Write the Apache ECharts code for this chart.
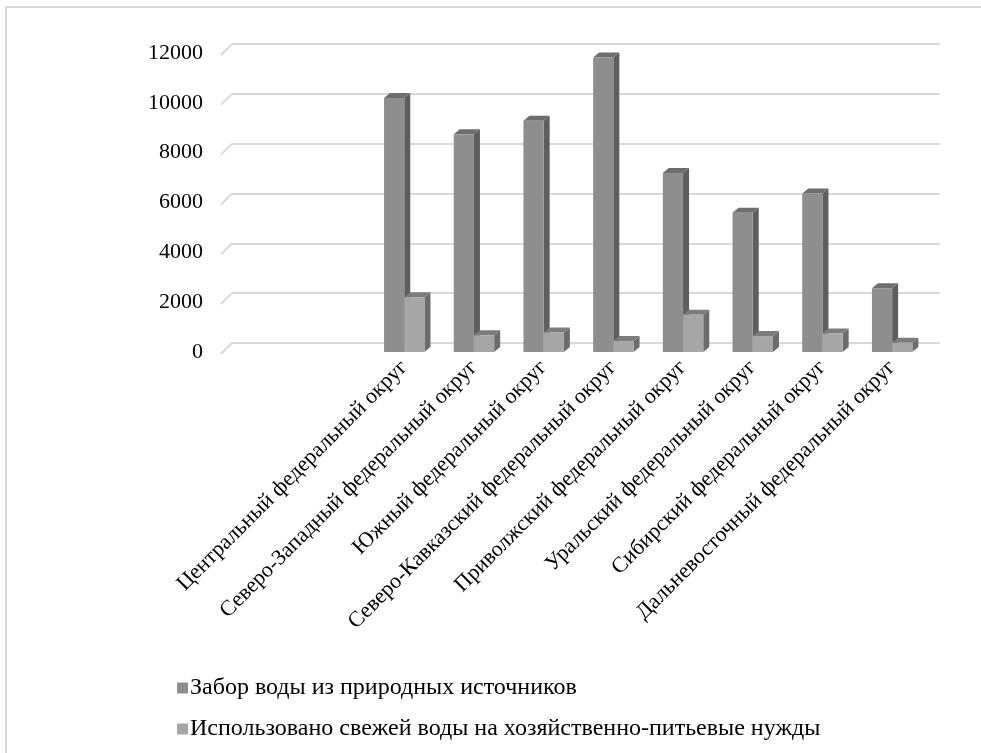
<!DOCTYPE html>
<html>
<head>
<meta charset="utf-8">
<script src="https://cdn.jsdelivr.net/npm/echarts@6/dist/echarts.min.js"></script>
<style>
  html, body { margin: 0; padding: 0; background: #fff; }
  #chart { width: 981px; height: 753px; }
</style>
</head>
<body>
<div id="chart"></div>
<script>
// Federal districts (two empty slots lead the category axis)
const districts = [
  'Центральный федеральный округ',
  'Северо-Западный федеральный округ',
  'Южный федеральный округ',
  'Северо-Кавказский федеральный округ',
  'Приволжский федеральный округ',
  'Уральский федеральный округ',
  'Сибирский федеральный округ',
  'Дальневосточный федеральный округ'
];
const leadingBlanks = ['', ''];

const seriesNames = [
  'Забор воды из природных источников',
  'Использовано свежей воды на хозяйственно-питьевые нужды'
];
const intake = [10190, 8740, 9280, 11820, 7180, 5590, 6360, 2560];
const drinking = [2200, 670, 780, 440, 1500, 640, 740, 370];

const yTicks = [0, 2000, 4000, 6000, 8000, 10000, 12000];

const categories = leadingBlanks.concat(districts);
const pad = arr => leadingBlanks.map(() => null).concat(arr);

const FONT = '"Liberation Serif", "DejaVu Serif", serif';

// face colours: front, top, side
const palettes = [
  { front: '#8e8e8e', top: '#6e6e6e', side: '#5e5e5e' },
  { front: '#a6a6a6', top: '#7c7c7c', side: '#6c6c6c' }
];
const DX = 6, DY = 5; // bar depth

function boxRenderer(slot, pal) {
  return function (params, api) {
    const v = api.value(1);
    if (v == null || isNaN(v)) return;
    const c = api.coord([api.value(0), v]);
    const base = api.coord([api.value(0), 0]);
    const band = api.size([1, 0])[0];
    const w = band * 0.29;
    const x0 = c[0] + (slot === 0 ? -w : 0);
    const x1 = x0 + w;
    const yT = c[1], yB = base[1];
    return {
      type: 'group',
      children: [
        { type: 'polygon', shape: { points: [[x1, yT], [x1 + DX, yT - DY], [x1 + DX, yB - DY], [x1, yB]] },
          style: { fill: pal.side } },
        { type: 'polygon', shape: { points: [[x0, yT], [x0 + DX, yT - DY], [x1 + DX, yT - DY], [x1, yT]] },
          style: { fill: pal.top } },
        { type: 'rect', shape: { x: x0, y: yT, width: w, height: yB - yT },
          style: { fill: pal.front } }
      ]
    };
  };
}

// side-wall tick diagonals: from the front label edge back to the gridline
function wallRenderer(params, api) {
  const v = api.value(0);
  const front = api.coord([0, v]);
  const x = params.coordSys.x;
  return {
    type: 'line',
    shape: { x1: x - 9, y1: front[1] + 2, x2: x + 2, y2: front[1] - 9 },
    style: { stroke: '#d9d9d9', lineWidth: 2 }
  };
}

const chart = echarts.init(document.getElementById('chart'), null, { renderer: 'canvas' });
chart.setOption({
  backgroundColor: '#ffffff',
  animation: false,
  textStyle: { fontFamily: FONT, color: '#000' },
  graphic: [
    { type: 'polyline', shape: { points: [[6, 760], [6, 7], [990, 7]] },
      style: { stroke: '#d9d9d9', lineWidth: 2, fill: null } }
  ],
  grid: [
    // back wall
    { left: 232, top: 44, width: 708, height: 299 },
    // front plane where the bars stand
    { left: 230, top: 53, width: 697, height: 299 }
  ],
  xAxis: [
    { gridIndex: 0, type: 'category', data: categories, show: false },
    { gridIndex: 1, type: 'category', data: categories,
      axisLine: { show: false }, axisTick: { show: false },
      axisLabel: { interval: 0, rotate: 45, margin: 12, fontSize: 22,
        fontFamily: FONT, color: '#000' } }
  ],
  yAxis: [
    { gridIndex: 0, type: 'value', min: 0, max: 12000, interval: 2000,
      axisLabel: { show: false }, axisLine: { show: false }, axisTick: { show: false },
      splitLine: { show: true, lineStyle: { color: '#d9d9d9', width: 2 } } },
    { gridIndex: 1, type: 'value', min: 0, max: 12000, interval: 2000,
      axisLine: { show: false }, axisTick: { show: false }, splitLine: { show: false },
      axisLabel: { margin: 27, fontSize: 22, fontFamily: FONT, color: '#000',
        padding: [6, 0, 0, 0], formatter: v => String(v) } }
  ],
  legend: {
    orient: 'vertical', left: 172, top: 671, itemGap: 17,
    itemWidth: 11, itemHeight: 11, icon: 'rect',
    textStyle: { fontSize: 24, fontFamily: FONT, color: '#000', padding: [0, 0, 0, -3] },
    data: [
      { name: seriesNames[0], itemStyle: { color: palettes[0].front } },
      { name: seriesNames[1], itemStyle: { color: palettes[1].front } }
    ]
  },
  series: [
    { type: 'custom', xAxisIndex: 1, yAxisIndex: 1, silent: true,
      renderItem: wallRenderer, data: yTicks.map(v => [v]), encode: { x: -1, y: 0 } },
    { name: seriesNames[0], type: 'custom', xAxisIndex: 1, yAxisIndex: 1,
      itemStyle: { color: palettes[0].front },
      renderItem: boxRenderer(0, palettes[0]),
      data: pad(intake).map((v, i) => [i, v]) },
    { name: seriesNames[1], type: 'custom', xAxisIndex: 1, yAxisIndex: 1,
      itemStyle: { color: palettes[1].front },
      renderItem: boxRenderer(1, palettes[1]),
      data: pad(drinking).map((v, i) => [i, v]) }
  ]
});
</script>
</body>
</html>
